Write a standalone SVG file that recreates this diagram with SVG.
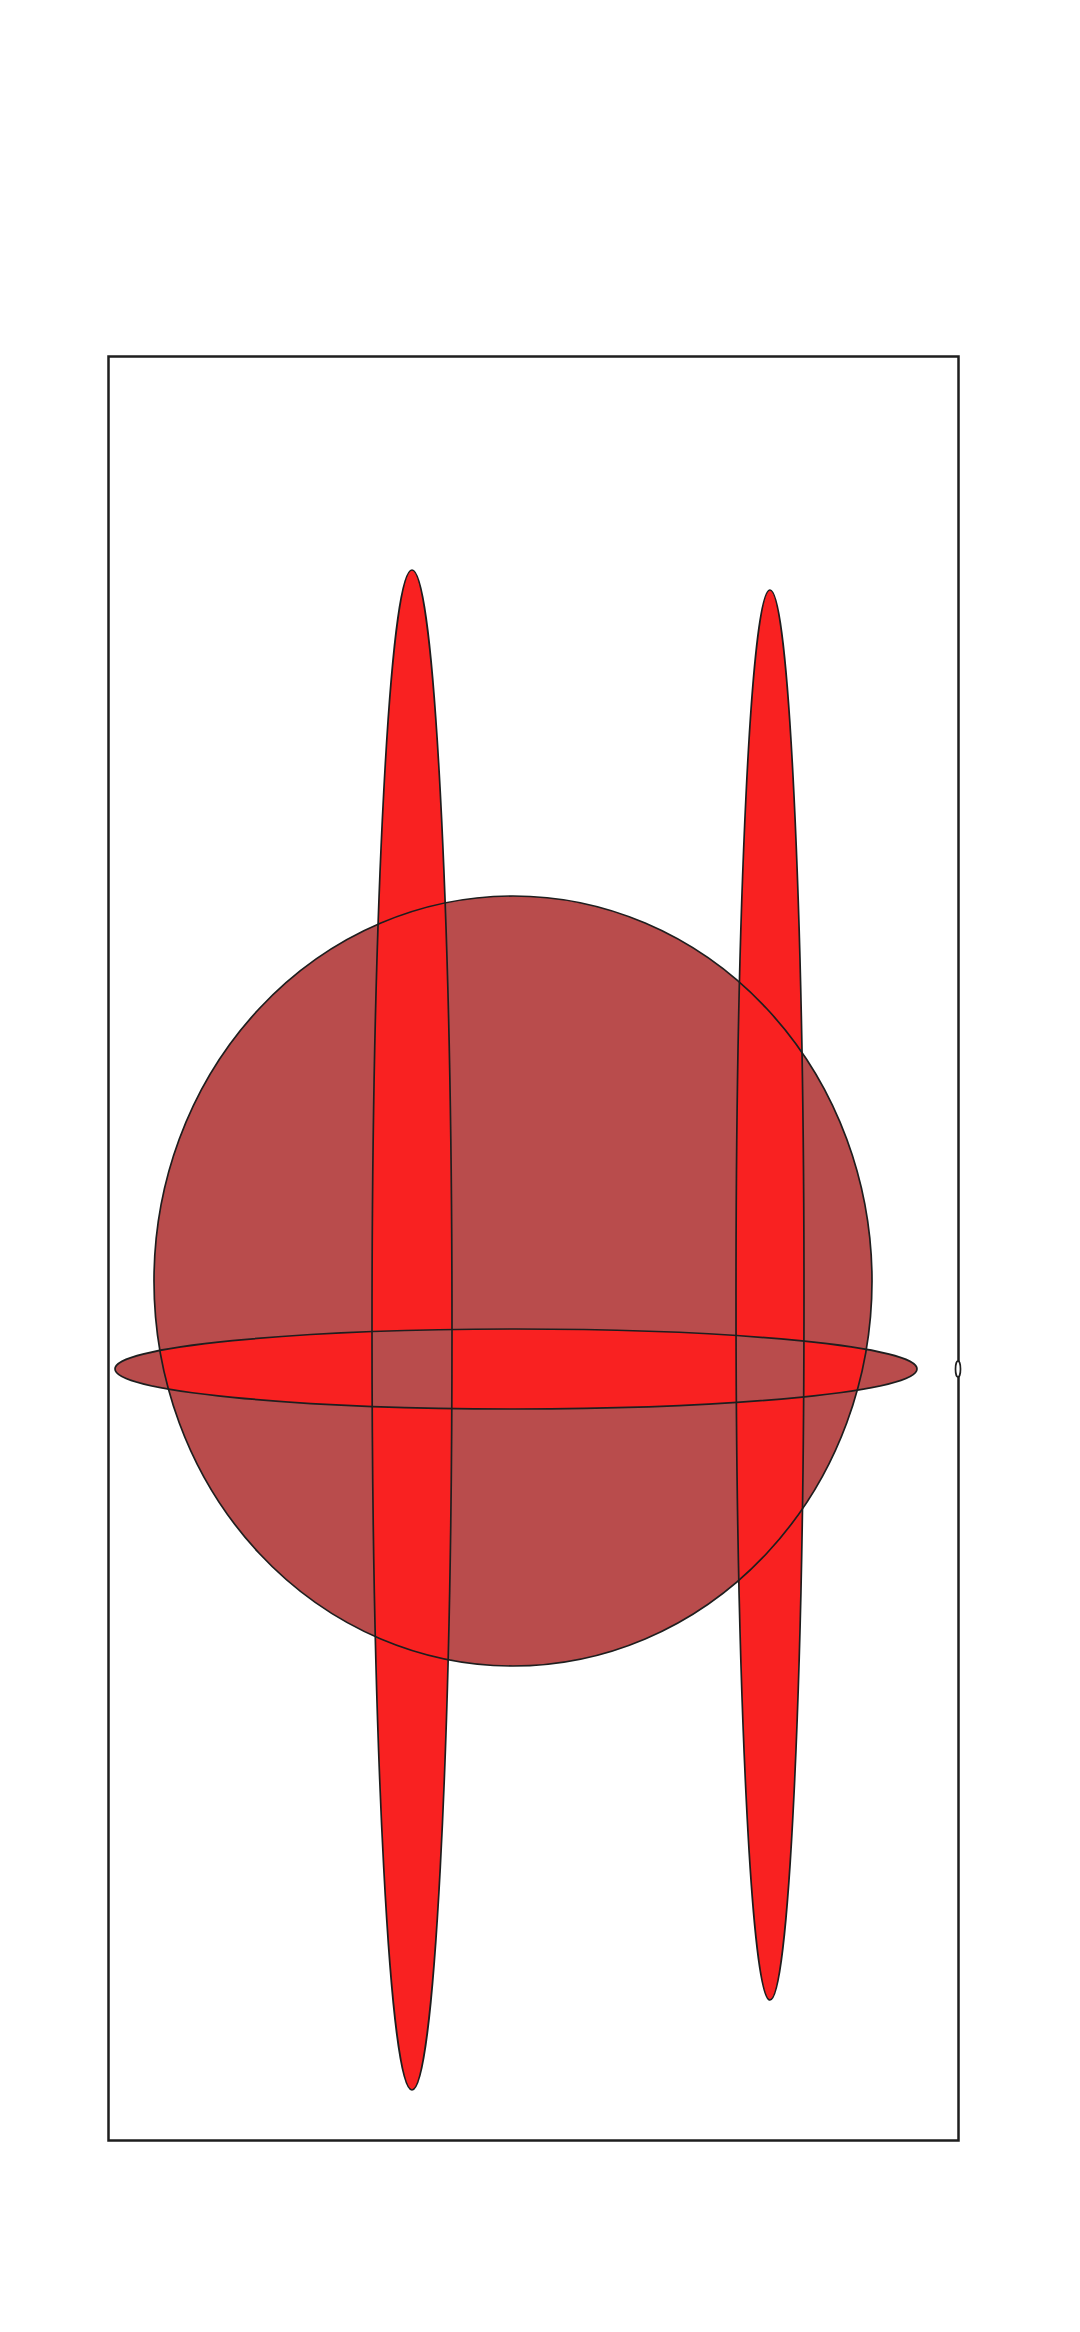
<svg xmlns="http://www.w3.org/2000/svg" width="1080" height="2332" viewBox="0 0 1080 2332">
<style>
.s{stroke:#1e1e1e;stroke-width:1.7;}
.b{fill:#b94c4c;}
.r{fill:#f92121;}
</style>
<defs>
<clipPath id="hc"><ellipse cx="516" cy="1369" rx="401" ry="40"/></clipPath>
<clipPath id="cc"><ellipse cx="513" cy="1281" rx="359" ry="385"/></clipPath>
</defs>
<rect x="108.5" y="356.5" width="850" height="1784" fill="#fff" stroke="#1e1e1e" stroke-width="2.5"/>
<g id="circle"><ellipse class="b" cx="513" cy="1281" rx="359" ry="385"/></g>
<g id="hbar">
<ellipse class="b" cx="516" cy="1369" rx="401" ry="40"/>
<ellipse class="r" cx="516" cy="1369" rx="401" ry="40" clip-path="url(#cc)"/>
</g>
<g id="v1"><ellipse class="r" cx="412" cy="1330" rx="40" ry="760"/></g>
<g id="v2"><ellipse class="r" cx="770" cy="1295" rx="34" ry="705"/></g>
<g clip-path="url(#hc)">
<ellipse class="b" cx="412" cy="1330" rx="40" ry="760" clip-path="url(#cc)"/>
<ellipse class="b" cx="770" cy="1295" rx="34" ry="705" clip-path="url(#cc)"/>
</g>
<g fill="none" class="s">
<ellipse cx="513" cy="1281" rx="359" ry="385"/>
<ellipse cx="516" cy="1369" rx="401" ry="40"/>
<ellipse cx="412" cy="1330" rx="40" ry="760"/>
<ellipse cx="770" cy="1295" rx="34" ry="705"/>
</g>
<g id="dot"><ellipse cx="958" cy="1369" rx="2.5" ry="8" fill="#fff" class="s"/></g>
</svg>
